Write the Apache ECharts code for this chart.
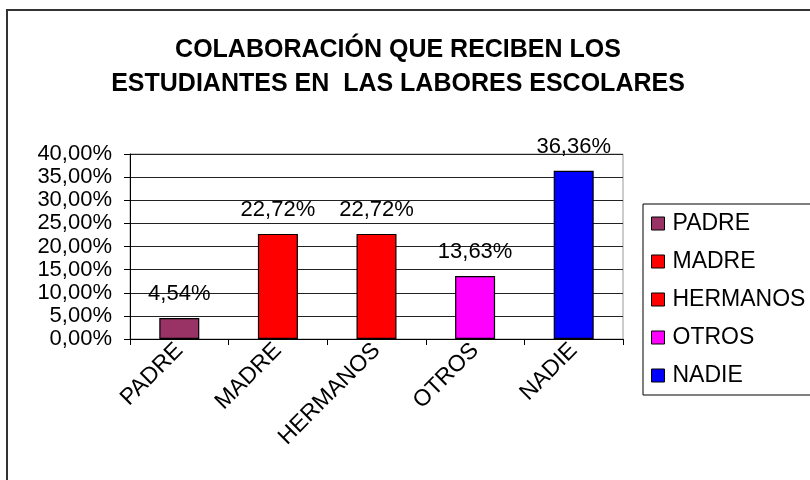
<!DOCTYPE html>
<html>
<head>
<meta charset="utf-8">
<script src="https://cdn.jsdelivr.net/npm/echarts@6/dist/echarts.min.js"></script>
<style>
  html, body { margin: 0; padding: 0; background: #fff; }
  #chart { width: 810px; height: 480px; }
</style>
</head>
<body>
<div id="chart"></div>
<script>
// datos
const categories = ['PADRE', 'MADRE', 'HERMANOS', 'OTROS', 'NADIE'];
const values = [4.54, 22.72, 22.72, 13.63, 36.36];
const barColors = ['#993366', '#FF0000', '#FF0000', '#FF00FF', '#0000FF'];
const yTicks = [0, 5, 10, 15, 20, 25, 30, 35, 40];

const FONT = '"Liberation Sans", Arial, sans-serif';
const fmt = v => v.toFixed(2).replace('.', ',') + '%';

const chart = echarts.init(document.getElementById('chart'));

// una serie por categoría para que cada una salga en la leyenda
const series = categories.map((name, i) => ({
  name: name,
  type: 'bar',
  barWidth: 40,
  barGap: '-100%',
  data: categories.map((c, j) => (j === i ? values[i] : '-')),
  itemStyle: { color: barColors[i], borderColor: '#000', borderWidth: 1.2 },
  label: {
    show: true,
    position: 'top',
    distance: 13,
    formatter: p => fmt(p.value),
    color: '#000',
    fontFamily: FONT,
    fontSize: 22
  }
}));

const option = {
  animation: false,
  backgroundColor: '#fff',
  textStyle: { fontFamily: FONT },
  title: {
    text: 'COLABORACIÓN QUE RECIBEN LOS\nESTUDIANTES EN  LAS LABORES ESCOLARES',
    left: 393,
    top: 28,
    textAlign: 'center',
    textStyle: { fontFamily: FONT, fontSize: 25, fontWeight: 'bold', color: '#000', lineHeight: 34 }
  },
  graphic: [
    {
      type: 'rect',
      z: -1,
      shape: { x: 7, y: 10, width: 900, height: 600 },
      style: { fill: 'none', stroke: '#333', lineWidth: 2 }
    }
  ],
  legend: {
    orient: 'vertical',
    left: 643,
    top: 204,
    width: 200,
    padding: [8, 40, 8, 8],
    itemGap: 15,
    itemWidth: 13,
    itemHeight: 13,
    borderColor: '#000',
    borderWidth: 1,
    icon: 'rect',
    data: categories,
    itemStyle: { borderColor: '#000', borderWidth: 1 },
    textStyle: { fontFamily: FONT, fontSize: 23, color: '#000', padding: [0, 0, 0, 3] }
  },
  grid: {
    left: 130,
    right: 187,
    top: 154,
    bottom: 141,
    show: true,
    borderColor: '#999',
    borderWidth: 1,
    backgroundColor: '#fff'
  },
  xAxis: {
    type: 'category',
    data: categories,
    axisLine: { lineStyle: { color: '#000', width: 1 } },
    axisTick: { show: true, length: 6, lineStyle: { color: '#000' } },
    axisLabel: { rotate: 45, margin: 8, color: '#000', fontFamily: FONT, fontSize: 23 }
  },
  yAxis: {
    type: 'value',
    min: yTicks[0],
    max: yTicks[yTicks.length - 1],
    interval: 5,
    axisLine: { show: true, lineStyle: { color: '#000', width: 1 } },
    axisTick: { show: true, length: 6, lineStyle: { color: '#000' } },
    splitLine: { lineStyle: { color: '#222', width: 1 } },
    axisLabel: { formatter: v => fmt(v), margin: 18, color: '#000', fontFamily: FONT, fontSize: 22 }
  },
  series: series
};

chart.setOption(option);
</script>
</body>
</html>
